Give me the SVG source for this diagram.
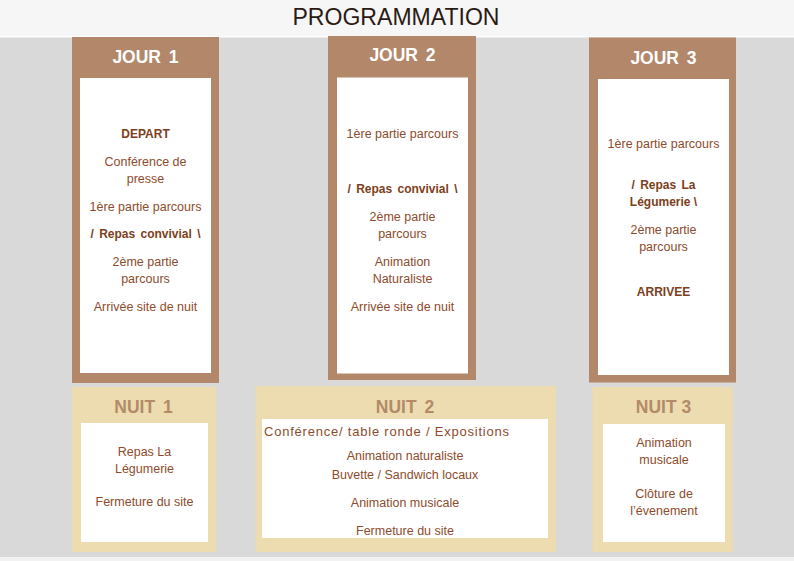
<svg xmlns="http://www.w3.org/2000/svg" width="794" height="561" viewBox="0 0 794 561">
<style>
.bg-top{fill:#f6f6f6}
.bg{fill:#d9d9d9}
.jour{fill:#b3876a}
.nuit{fill:#ecdcb0}
.inner{fill:#ffffff}
.title{font-family:"Liberation Sans",Arial,sans-serif;font-size:23px;fill:#2b1a13;text-anchor:middle}
.hj{font-family:"Liberation Sans",Arial,sans-serif;font-weight:bold;font-size:17.5px;fill:#ffffff;text-anchor:middle;word-spacing:3px}
.hn{font-family:"Liberation Sans",Arial,sans-serif;font-weight:bold;font-size:17.5px;fill:#b38b68;text-anchor:middle;word-spacing:3px}
.t{font-family:"Liberation Sans",Arial,sans-serif;font-size:12.5px;fill:#8e4b2c;text-anchor:middle}
.b{font-family:"Liberation Sans",Arial,sans-serif;font-size:12px;font-weight:bold;fill:#7d3e20;text-anchor:middle}
.ws{word-spacing:2px}
</style>
<rect x="0" y="0" width="794" height="561" fill="#f2f2f2"/>
<rect class="bg-top" x="0" y="0" width="794" height="36"/>
<rect fill="#ffffff" x="0" y="36" width="794" height="1.5"/>
<rect class="bg" x="0" y="37.5" width="794" height="519.5"/>
<text class="title" x="396" y="25" textLength="207" lengthAdjust="spacingAndGlyphs">PROGRAMMATION</text>

<g id="jour1">
<rect class="jour" x="72" y="37" width="147" height="346"/>
<rect class="inner" x="80" y="78" width="131" height="295"/>
<text class="hj" x="145.5" y="63">JOUR 1</text>
<text class="b" x="145.5" y="138">DEPART</text>
<text class="t" x="145.5" y="166">Conférence de</text>
<text class="t" x="145.5" y="183">presse</text>
<text class="t" x="145.5" y="211">1ère partie parcours</text>
<text class="b ws" x="145.5" y="238">/ Repas convivial \</text>
<text class="t" x="145.5" y="266">2ème partie</text>
<text class="t" x="145.5" y="283">parcours</text>
<text class="t" x="145.5" y="311">Arrivée site de nuit</text>
</g>

<g id="jour2">
<rect class="jour" x="328" y="36" width="148" height="344"/>
<rect class="inner" x="337" y="77.5" width="131" height="296"/>
<text class="hj" x="402.5" y="61">JOUR 2</text>
<text class="t" x="402.5" y="138">1ère partie parcours</text>
<text class="b ws" x="402.5" y="193">/ Repas convivial \</text>
<text class="t" x="402.5" y="221">2ème partie</text>
<text class="t" x="402.5" y="238">parcours</text>
<text class="t" x="402.5" y="266">Animation</text>
<text class="t" x="402.5" y="283">Naturaliste</text>
<text class="t" x="402.5" y="311">Arrivée site de nuit</text>
</g>

<g id="jour3">
<rect class="jour" x="589" y="37.5" width="147" height="345"/>
<rect class="inner" x="598" y="79" width="131" height="296"/>
<text class="hj" x="663.5" y="64">JOUR 3</text>
<text class="t" x="663.5" y="148">1ère partie parcours</text>
<text class="b ws" x="663.5" y="189">/ Repas La</text>
<text class="b" x="663.5" y="206">Légumerie \</text>
<text class="t" x="663.5" y="234">2ème partie</text>
<text class="t" x="663.5" y="251">parcours</text>
<text class="b" x="663.5" y="296">ARRIVEE</text>
</g>

<g id="nuit1">
<rect class="nuit" x="72" y="387" width="144" height="165"/>
<rect class="inner" x="81" y="423" width="127" height="119"/>
<text class="hn" x="143.5" y="412.5">NUIT 1</text>
<text class="t" x="144.5" y="456">Repas La</text>
<text class="t" x="144.5" y="473">Légumerie</text>
<text class="t" x="144.5" y="506">Fermeture du site</text>
</g>

<g id="nuit2">
<rect class="nuit" x="255.5" y="386" width="300.5" height="166"/>
<rect class="inner" x="262" y="419" width="286" height="119"/>
<text class="hn" x="405" y="412.5">NUIT 2</text>
<text class="t" x="386.5" y="435.5" style="font-size:13px" textLength="245" lengthAdjust="spacing">Conférence/ table ronde / Expositions</text>
<text class="t" x="405" y="459.5">Animation naturaliste</text>
<text class="t" x="405" y="479">Buvette / Sandwich locaux</text>
<text class="t" x="405" y="507">Animation musicale</text>
<text class="t" x="405" y="535">Fermeture du site</text>
</g>

<g id="nuit3">
<rect class="nuit" x="592.5" y="387" width="140" height="165"/>
<rect class="inner" x="603" y="424" width="122" height="118"/>
<text class="hn" x="663.5" y="412.5" style="word-spacing:0">NUIT 3</text>
<text class="t" x="664" y="447">Animation</text>
<text class="t" x="664" y="464">musicale</text>
<text class="t" x="664" y="498">Clôture de</text>
<text class="t" x="664" y="515">l’évenement</text>
</g>

<g id="connectors"></g>
</svg>
